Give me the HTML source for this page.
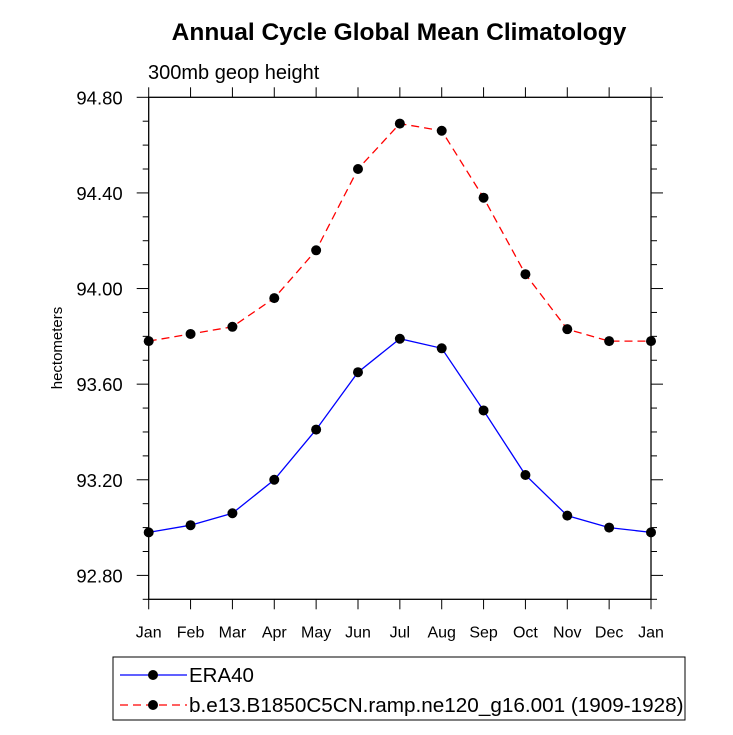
<!DOCTYPE html>
<html><head><meta charset="utf-8"><style>
body{margin:0;background:#fff;width:733px;height:730px;overflow:hidden}
svg text{font-family:"Liberation Sans",Helvetica,sans-serif}
</style></head><body>
<svg id="chart" width="733" height="730" xmlns="http://www.w3.org/2000/svg">
<text x="399" y="40" text-anchor="middle" font-size="24.5" font-weight="bold">Annual Cycle Global Mean Climatology</text>
<text x="148" y="79" font-size="20">300mb geop height</text>
<text transform="translate(62,348) rotate(-90)" text-anchor="middle" font-size="15">hectometers</text>
<g id="axes"></g>
<g id="series"></g>
<g id="legend">
<rect x="113" y="657" width="572" height="63" fill="none" stroke="#000" stroke-width="1"/>
<g>
<line x1="120" y1="675" x2="187" y2="675" stroke="#0000ff" stroke-width="1.3"/>
<circle cx="153" cy="675" r="5" fill="#000"/>
<text x="189" y="682" font-size="20.5">ERA40</text></g>
<g>
<line x1="120" y1="705" x2="187" y2="705" stroke="#ff0000" stroke-width="1.3" stroke-dasharray="8,5"/>
<circle cx="153" cy="705" r="5" fill="#000"/>
<text x="189" y="712" font-size="20.7">b.e13.B1850C5CN.ramp.ne120_g16.001 (1909-1928)</text></g>
</g>
</svg>
<script>
const months=["Jan","Feb","Mar","Apr","May","Jun","Jul","Aug","Sep","Oct","Nov","Dec","Jan"];
const era40=[92.98,93.01,93.06,93.20,93.41,93.65,93.79,93.75,93.49,93.22,93.05,93.00,92.98];
const model=[93.78,93.81,93.84,93.96,94.16,94.50,94.69,94.66,94.38,94.06,93.83,93.78,93.78];
const yTicks=[92.80,93.20,93.60,94.00,94.40,94.80];
const NS="http://www.w3.org/2000/svg";
const L=148.7,R=651,T=97.3,B=599.3,yMin=92.70,yMax=94.80;
const xs=i=>L+(R-L)*i/(months.length-1);
const ys=v=>B-(v-yMin)/(yMax-yMin)*(B-T);
function mk(t,a,p){const e=document.createElementNS(NS,t);for(const k in a)e.setAttribute(k,a[k]);(p||document.getElementById('axes')).appendChild(e);return e;}
const frame=mk('rect',{x:L,y:T,width:R-L,height:B-T,fill:'none',stroke:'#000','stroke-width':1.3});


for(let i=0;i<months.length;i++){
  const x=xs(i);
  mk('line',{x1:x,y1:B,x2:x,y2:B+10,stroke:'#000'});
  mk('line',{x1:x,y1:T,x2:x,y2:T-10,stroke:'#000'});
  const t=mk('text',{x:x,y:B+38,'text-anchor':'middle','font-size':16});
  t.textContent=months[i];
  
  
}
for(let v=yMin;v<=yMax+1e-6;v+=0.1){
  const y=ys(v);
  const major=yTicks.some(t=>Math.abs(t-v)<1e-6);
  const len=major?12:6;
  mk('line',{x1:L,y1:y,x2:L-len,y2:y,stroke:'#000'});
  mk('line',{x1:R,y1:y,x2:R+len,y2:y,stroke:'#000'});
}
yTicks.forEach(v=>{
  const t=mk('text',{x:L-26,y:ys(v)+7,'text-anchor':'end','font-size':18.5});
  t.textContent=v.toFixed(2);
  
  
});
const sg=document.getElementById('series');
function series(data,color,dash,name){
  const g=mk('g',{},sg);
  
  
  const pts=data.map((v,i)=>xs(i)+','+ys(v)).join(' ');
  const pl=mk('polyline',{points:pts,fill:'none',stroke:color,'stroke-width':1.3},g);
  if(dash)pl.setAttribute('stroke-dasharray',dash);
  data.forEach((v,i)=>{
    const c=mk('circle',{cx:xs(i),cy:ys(v),r:5,fill:'#000'},g);
    
    
  });
}
series(model,'#ff0000','8,5','model-series');
series(era40,'#0000ff',null,'era40-series');
</script>
</body></html>
